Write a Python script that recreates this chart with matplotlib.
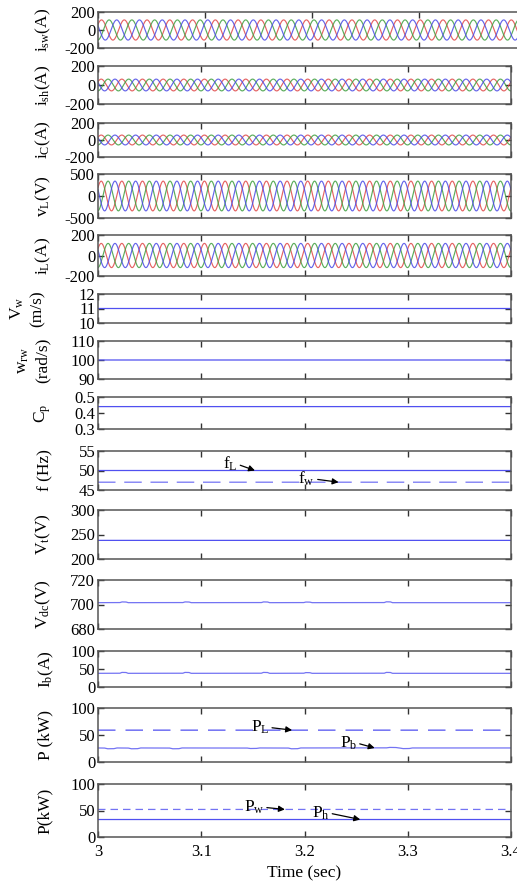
import numpy as np
import matplotlib
matplotlib.use("Agg")
import matplotlib.pyplot as plt

plt.rcParams['font.family'] = ['Liberation Serif', 'DejaVu Serif']
plt.rcParams['mathtext.fontset'] = 'custom'
plt.rcParams['mathtext.rm'] = 'Liberation Serif'
plt.rcParams['mathtext.it'] = 'Liberation Serif'
plt.rcParams['mathtext.default'] = 'regular'
plt.rcParams['axes.unicode_minus'] = False

# ---------------- data ----------------
t_start, t_end = 3.0, 3.4
x_ticks = [3.0, 3.1, 3.2, 3.3, 3.4]
x_ticklabels = ['3', '3.1', '3.2', '3.3', '3.4']

# three-phase waveforms: (amplitude, frequency Hz)
isw_amp, isw_freq = 112, 47
ish_amp, ish_freq = 62, 50
ic_amp, ic_freq = 58, 50
vl_amp, vl_freq = 338, 50
il_amp, il_freq = 118, 50

# constant signals
vw_value = 11.0
wrw_value = 100.0
cp_value = 0.44
fL_value = 50.0
fw_value = 47.0
vt_value = 238.0

# Vdc with small bumps
vdc_base = 701.5
vdc_bump_t = [3.025, 3.086, 3.162, 3.203, 3.281]
vdc_bump_h = [0.6, 0.6, 0.6, 0.5, 0.7]

# battery current with small bumps
ib_base = 38.0
ib_bump_t = [3.025, 3.086, 3.162, 3.203, 3.281]
ib_bump_h = [2.5, 2.5, 2.5, 2.0, 2.5]

# powers
pL_value = 59.0
pb_base = 26.0
pb_dip_t = [3.012, 3.035, 3.075, 3.150, 3.190, 3.285, 3.298]
pb_dip_h = [-1.5, -1.5, -1.5, -1.0, -1.5, 1.0, -1.2]
pw_value = 52.0
ph_value = 33.0

# panel axis settings
ylims = [(-200, 200), (-200, 200), (-200, 200), (-500, 500), (-200, 200),
         (10, 12), (90, 110), (0.3, 0.5), (45, 55), (200, 300),
         (680, 720), (0, 100), (0, 100), (0, 100)]
yticks = [[-200, 0, 200], [-200, 0, 200], [-200, 0, 200], [-500, 0, 500], [-200, 0, 200],
          [10, 11, 12], [90, 100, 110], [0.3, 0.4, 0.5], [45, 50, 55], [200, 250, 300],
          [680, 700, 720], [0, 50, 100], [0, 50, 100], [0, 50, 100]]
ylabels = ['i$_{sw}$(A)', 'i$_{sh}$(A)', 'i$_{C}$(A)', 'v$_{L}$(V)', 'i$_{L}$(A)',
           'V$_{w}$\n(m/s)', 'w$_{rw}$\n(rad/s)', 'C$_{p}$', 'f (Hz)', 'V$_{t}$(V)',
           'V$_{dc}$(V)', 'I$_{b}$(A)', 'P (kW)', 'P(kW)']

# ---------------- layout (pixel rows) ----------------
W, H = 517, 883
rows = [(12, 48), (66, 104), (123, 157), (174, 218), (235, 276),
        (294, 323), (341, 379), (397, 429), (451, 490), (510, 559),
        (580, 629), (651, 687), (708, 762), (784, 837)]
left_px, right_px = 98, 511
label_x_px = [43, 43, 43, 43, 43, 27, 33, 43, 45, 43, 43, 46, 45, 45]

fig = plt.figure(figsize=(W / 100, H / 100), dpi=100)

t = np.linspace(t_start, t_end, 6000)
blue = '#5050f0'
phase_cols = ['#e04848', '#3f9f3f', '#4a4ae6']


def bumps(base, bt, bh, width=0.004):
    knots_t = [t_start]
    knots_v = [base]
    for c, h in zip(bt, bh):
        knots_t += [c - width, c - width / 2, c + width / 2, c + width]
        knots_v += [base, base + h, base + h, base]
    knots_t.append(t_end)
    knots_v.append(base)
    return np.interp(t, knots_t, knots_v)


axes = []
for i, (top, bot) in enumerate(rows):
    rpx = 526 if i == 0 else right_px
    ax = fig.add_axes([left_px / W, 1 - bot / H, (rpx - left_px) / W, (bot - top) / H])
    axes.append(ax)
    ax.set_xlim(t_start, t_end)
    ax.set_ylim(*ylims[i])
    ax.set_yticks(yticks[i])
    ax.set_xticks(x_ticks)
    if i == len(rows) - 1:
        ax.set_xticklabels(x_ticklabels)
    else:
        ax.set_xticklabels([])
    ax.tick_params(direction='in', top=True, right=True, length=4, width=1,
                   color='#333333', labelsize=12, pad=2)
    ax.tick_params(axis='x', pad=5)
    for s in ax.spines.values():
        s.set_color('#555555')
        s.set_linewidth(1.1)
    ax.text((label_x_px[i] - left_px) / (rpx - left_px), 0.5, ylabels[i], transform=ax.transAxes,
            rotation=90, ha='center', va='center', fontsize=12.5, linespacing=1.3,
            multialignment='center')

# three-phase panels
for ax, amp, f in zip(axes[:5], [isw_amp, ish_amp, ic_amp, vl_amp, il_amp],
                      [isw_freq, ish_freq, ic_freq, vl_freq, il_freq]):
    for k, c in enumerate(phase_cols):
        ax.plot(t, amp * np.sin(2 * np.pi * f * t - 2 * np.pi * k / 3 + 0.6), color=c, lw=0.85, alpha=0.85)

axes[5].plot(t, np.full_like(t, vw_value), color=blue, lw=0.9)
axes[6].plot(t, np.full_like(t, wrw_value), color=blue, lw=0.9)
axes[7].plot(t, np.full_like(t, cp_value), color=blue, lw=0.9)

axes[8].plot(t, np.full_like(t, fL_value), color=blue, lw=0.9)
axes[8].plot(t, np.full_like(t, fw_value), color=blue, lw=0.9, alpha=0.8, dashes=(14, 7))
axes[9].plot(t, np.full_like(t, vt_value), color=blue, lw=0.9)
axes[10].plot(t, bumps(vdc_base, vdc_bump_t, vdc_bump_h), color=blue, lw=0.9, alpha=0.8)
axes[11].plot(t, bumps(ib_base, ib_bump_t, ib_bump_h), color=blue, lw=0.9, alpha=0.8)

axes[12].plot(t, np.full_like(t, pL_value), color=blue, lw=0.9, dashes=(14, 8))
axes[12].plot(t, bumps(pb_base, pb_dip_t, pb_dip_h, 0.006), color=blue, lw=0.9, alpha=0.8)
axes[13].plot(t, np.full_like(t, pw_value), color=blue, lw=0.9, alpha=0.8, dashes=(6, 4))
axes[13].plot(t, np.full_like(t, ph_value), color=blue, lw=0.9)

arrow = dict(arrowstyle='-|>', color='black', lw=0.9, mutation_scale=9,
             shrinkA=0, shrinkB=0, relpos=(1.0, 0.5))


def note(ax, txt, xt, yt, xa, ya):
    ax.annotate(txt, xy=(xa, ya), xytext=(xt, yt), ha='left', va='center',
                fontsize=12.5, arrowprops=arrow)


note(axes[8], 'f$_L$', 3.121, 51.6, 3.152, 50.0)
note(axes[8], 'f$_w$', 3.194, 47.8, 3.233, 47.0)
note(axes[12], 'P$_L$', 3.148, 64.0, 3.188, 59.0)
note(axes[12], 'P$_b$', 3.234, 35.0, 3.268, 26.0)
note(axes[13], 'P$_w$', 3.141, 56.0, 3.181, 52.0)
note(axes[13], 'P$_h$', 3.207, 45.0, 3.254, 33.0)

fig.text((left_px + right_px) / 2 / W, 1 - 873 / H, 'Time (sec)', ha='center', va='center', fontsize=12.5)

fig.savefig('out.png', dpi=100)
